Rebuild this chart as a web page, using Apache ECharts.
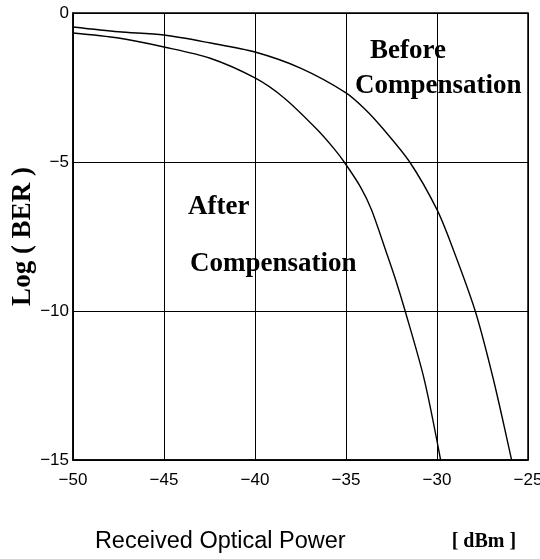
<!DOCTYPE html>
<html>
<head>
<meta charset="utf-8">
<script src="https://cdn.jsdelivr.net/npm/echarts@6/dist/echarts.min.js"></script>
<style>
  html, body { margin: 0; padding: 0; background: #fff; }
  #chart { width: 540px; height: 559px; }
</style>
</head>
<body>
<div id="chart"></div>
<script>
// received optical power (dBm) and log(BER)
const beforeX = [-50, -47.5, -45, -42.5, -40, -37.5, -35, -33.9, -33, -31.5, -30, -29.1, -27.9, -26.9, -25.9]
const beforeY = [-0.47, -0.63, -0.74, -1.0, -1.31, -1.85, -2.68, -3.26, -3.86, -5.0, -6.6, -7.95, -10.0, -12.3, -15.0]

const afterX = [-50, -47.5, -45, -42.5, -40, -38.4, -36.6, -35.66, -35.1, -34.2, -33.6, -32.8, -32.3, -31.75, -30.7, -29.8]
const afterY = [-0.67, -0.84, -1.14, -1.51, -2.18, -2.85, -3.9, -4.55, -5.0, -5.84, -6.6, -8.0, -8.9, -10.0, -12.3, -15.0]

const xTicks = { min: -50, max: -25, step: 5 }
const yTicks = { min: -15, max: 0, step: 5 }

const notes = [
  { text: 'Before', left: 370, top: 52 },
  { text: 'Compensation', left: 355, top: 87 },
  { text: 'After', left: 188, top: 208 },
  { text: 'Compensation', left: 190, top: 265 },
]

const serif = "'Liberation Serif', 'DejaVu Serif', serif"
const sans = "'Liberation Sans', Arial, sans-serif"

const pairs = (xs, ys) => xs.map((x, i) => [x, ys[i]])
const minus = (v) => String(v).replace('-', '\u2212')

const chart = echarts.init(document.getElementById('chart'), null, { renderer: 'canvas' })

chart.setOption({
  backgroundColor: '#fff',
  animation: false,
  grid: {
    left: 73, right: 12, top: 13, bottom: 99,
    outerBoundsMode: 'none',
    containLabel: false,
    show: true,
    borderColor: '#000',
    borderWidth: 1.5,
  },
  xAxis: {
    type: 'value',
    min: xTicks.min,
    max: xTicks.max,
    interval: xTicks.step,
    axisLine: { show: true, onZero: false, lineStyle: { color: '#000', width: 1.5 } },
    axisTick: { show: false },
    axisLabel: {
      color: '#000',
      fontFamily: sans,
      fontSize: 17,
      margin: 12,
      formatter: minus,
    },
    splitLine: { show: true, lineStyle: { color: '#000', width: 1 } },
    name: '{a|Received Optical Power}{b|[ dBm ]}',
    nameLocation: 'middle',
    nameGap: 69,
    nameMoveOverlap: false,
    nameTextStyle: {
      rich: {
        a: { fontFamily: sans, fontSize: 23.5, color: '#000', lineHeight: 26, padding: [0, 0, 0, 10] },
        b: { fontFamily: serif, fontSize: 20, fontWeight: 'bold', color: '#000', lineHeight: 26, padding: [0, 0, 0, 106] },
      },
    },
  },
  yAxis: {
    type: 'value',
    min: yTicks.min,
    max: yTicks.max,
    interval: yTicks.step,
    axisLine: { show: true, onZero: false, lineStyle: { color: '#000', width: 1.5 } },
    axisTick: { show: false },
    axisLabel: {
      color: '#000',
      fontFamily: sans,
      fontSize: 17,
      margin: 4,
      formatter: minus,
    },
    splitLine: { show: true, lineStyle: { color: '#000', width: 1 } },
    name: 'Log ( BER )',
    nameLocation: 'middle',
    nameGap: 36,
    nameMoveOverlap: false,
    nameTextStyle: { fontFamily: serif, fontSize: 27, fontWeight: 'bold', color: '#000' },
  },
  series: [
    {
      name: 'Before Compensation',
      type: 'line',
      data: pairs(beforeX, beforeY),
      showSymbol: false,
      smooth: 0.3,
      clip: true,
      lineStyle: { color: '#000', width: 1.4 },
    },
    {
      name: 'After Compensation',
      type: 'line',
      data: pairs(afterX, afterY),
      showSymbol: false,
      smooth: 0.3,
      clip: true,
      lineStyle: { color: '#000', width: 1.4 },
    },
  ],
  graphic: notes.map((n) => ({
    type: 'text',
    left: n.left,
    top: n.top - 14,
    style: {
      text: n.text,
      fontFamily: serif,
      fontSize: 27,
      fontWeight: 'bold',
      fill: '#000',
    },
  })),
})
</script>
</body>
</html>
